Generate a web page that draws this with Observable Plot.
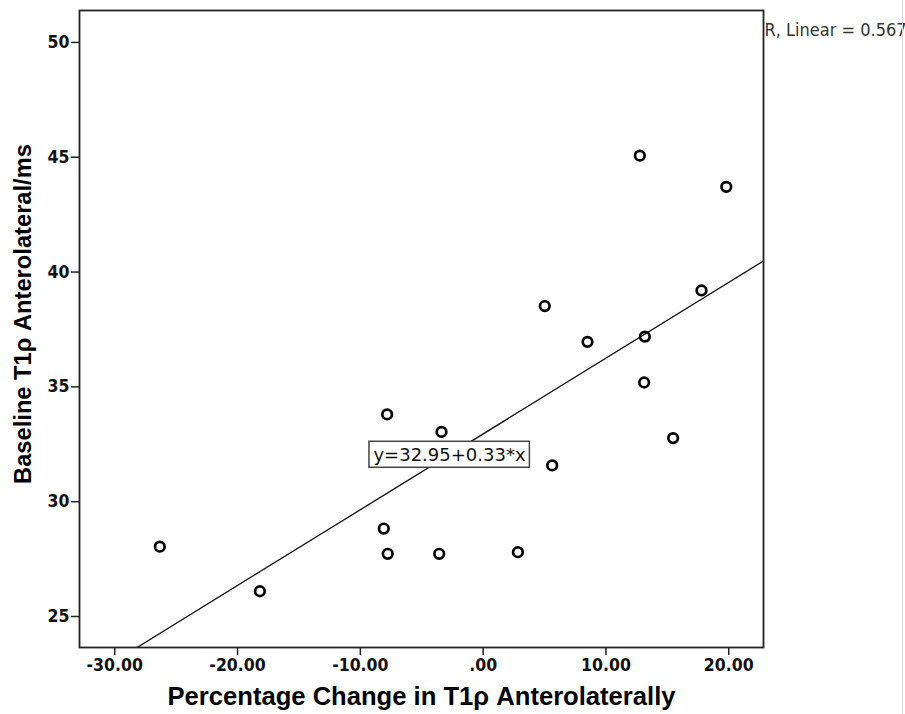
<!DOCTYPE html>
<html>
<head>
<meta charset="utf-8">
<script src="https://cdn.jsdelivr.net/npm/d3@7"></script>
<script src="https://cdn.jsdelivr.net/npm/@observablehq/plot@0.6"></script>
<style>
  html, body { margin: 0; padding: 0; background: #fff; }
  #chart { position: relative; width: 905px; height: 714px; }
  #edge { position: absolute; left: 902px; top: 0; width: 1px; height: 714px; background: #d8d8d8; }
</style>
</head>
<body>
<div id="chart"><div id="edge"></div></div>
<script>
// Data
const pctChange = [-26.33, -18.18, -8.09, -7.77, -3.58, 2.83, -7.82, -3.39, 5.62, 12.76, 19.80, 5.02, 8.50, 17.78, 13.17, 13.11, 15.47];
const baseline  = [28.04, 26.10, 28.83, 27.73, 27.73, 27.80, 33.80, 33.04, 31.58, 45.07, 43.71, 38.52, 36.96, 39.20, 37.19, 35.19, 32.77];

// Fit line (as reported on chart)
const intercept = [32.95];
const slope = [0.33];
const rSquaredLabel = ["R, Linear = 0.567"];
const equationLabel = ["y=32.95+0.33*x"];

// Axes
const xTicks = [-30, -20, -10, 0, 10, 20];
const yTicks = [25, 30, 35, 40, 45, 50];
const xDomain = [-32.87, 22.83];
const yDomain = [23.65, 51.39];
const xTitle = ["Percentage Change in T1\u03C1 Anterolaterally"];
const yTitle = ["Baseline T1\u03C1 Anterolateral/ms"];

const points = pctChange.map((x, i) => ({x, y: baseline[i]}));
const fitLine = xDomain.map(x => ({x, y: intercept[0] + slope[0] * x}));
const eqAnchor = [{x: -2.74, y: 32.01, label: equationLabel[0]}];

const fmtX = v => {
  if (v === 0) return ".00";
  return (v < 0 ? "-" : "") + Math.abs(v).toFixed(2);
};

const tickFont = "'DejaVu Sans Condensed', 'DejaVu Sans', sans-serif";
const titleFont = "'Liberation Sans', Arial, sans-serif";

const plot = Plot.plot({
  width: 905,
  height: 714,
  marginLeft: 79,
  marginRight: 142,
  marginTop: 10,
  marginBottom: 67,
  style: {fontFamily: tickFont, background: "transparent", overflow: "visible"},
  x: {domain: xDomain, ticks: xTicks},
  y: {domain: yDomain, ticks: yTicks},
  marks: [
    Plot.axisX({ticks: xTicks, tickFormat: fmtX, tickSize: 8, tickPadding: 3, fontSize: 17.5, fontWeight: "bold", fontFamily: tickFont, label: null, stroke: "#222", strokeWidth: 1.5, fill: "#111"}),
    Plot.axisY({ticks: yTicks, tickFormat: d => String(d), tickSize: 8, tickPadding: 2, fontSize: 17.5, fontWeight: "bold", fontFamily: tickFont, label: null, stroke: "#222", strokeWidth: 1.5, fill: "#111"}),
    Plot.line(fitLine, {x: "x", y: "y", stroke: "#111", strokeWidth: 1.3, clip: true}),
    Plot.dot(points, {x: "x", y: "y", r: 4.8, stroke: "#000", strokeWidth: 2.7, fill: "none"}),
    Plot.frame({stroke: "#222", strokeWidth: 1.8}),
    Plot.text(yTitle, {frameAnchor: "left", textAnchor: "middle", rotate: -90, dx: -56, dy: -15, fontSize: 23.7, fontWeight: "bold", fontFamily: titleFont, fill: "#000"}),
    Plot.text(xTitle, {frameAnchor: "bottom", textAnchor: "middle", dy: 57, fontSize: 25.6, fontWeight: "bold", fontFamily: titleFont, fill: "#000"}),
    Plot.text(rSquaredLabel, {frameAnchor: "top-right", textAnchor: "start", dx: 1, dy: 13, fontSize: 18, fontFamily: tickFont, fill: "#333"}),
    Plot.text(eqAnchor, {x: "x", y: "y", text: "label", fontSize: 18, fontFamily: "'DejaVu Sans', sans-serif", fill: "#111", ariaDescription: "equation"})
  ]
});

document.getElementById("chart").appendChild(plot);

// Draw the box behind the equation label
let eqGroup = plot.querySelector('g[aria-description="equation"]');
if (!eqGroup) {
  const groups = plot.querySelectorAll('g[aria-label="text"]');
  eqGroup = groups[groups.length - 1];
}
if (eqGroup) {
  const t = eqGroup.querySelector("text");
  const bb = t.getBBox();
  const rect = document.createElementNS("http://www.w3.org/2000/svg", "rect");
  rect.setAttribute("x", bb.x - 4.5);
  rect.setAttribute("y", bb.y - 3);
  rect.setAttribute("width", bb.width + 8);
  rect.setAttribute("height", bb.height + 5);
  rect.setAttribute("fill", "#fff");
  rect.setAttribute("stroke", "#444");
  rect.setAttribute("stroke-width", 1.5);
  const tr = t.getAttribute("transform");
  if (tr) rect.setAttribute("transform", tr);
  t.parentNode.insertBefore(rect, t);
}
</script>
</body>
</html>
